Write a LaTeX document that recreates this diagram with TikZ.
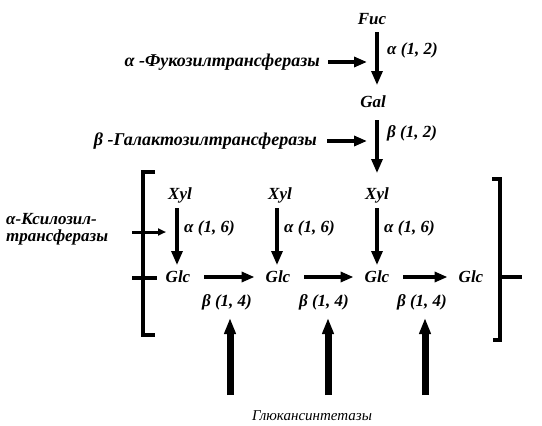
\documentclass[tikz,border=0pt]{standalone}
\usepackage{fontspec}
\setmainfont{Liberation Serif}
\usetikzlibrary{arrows.meta}
\begin{document}
\begin{tikzpicture}[x=1pt,y=-1pt,
  font=\fontsize{17}{19}\selectfont\bfseries\itshape,
  sugar/.style={inner sep=2pt},
  lbl/.style={anchor=west,inner sep=0pt},
  enz/.style={anchor=east,inner sep=0pt,font=\fontsize{18}{20}\selectfont\bfseries\itshape},
  arr/.style={line width=3.2pt,-{Triangle[length=14pt,width=11pt]}},
  harr/.style={line width=3.4pt,-{Triangle[length=13pt,width=10pt]}},
  smallarr/.style={line width=3pt,-{Triangle[length=8pt,width=7pt]}},
  bigarr/.style={line width=7pt,-{Triangle[length=16pt,width=11pt]}},
  brk/.style={line width=3.2pt}]
\useasboundingbox (0,0) rectangle (542,426);
% sugars
\node[sugar] (fuc) at (372,19) {Fuc};
\node[sugar] (gal) at (373,102) {Gal};
\node[sugar] (x1) at (180,195) {Xyl};
\node[sugar] (x2) at (280,195) {Xyl};
\node[sugar] (x3) at (377,195) {Xyl};
\node[sugar] (g1) at (178,277) {Glc};
\node[sugar] (g2) at (278,277) {Glc};
\node[sugar] (g3) at (377,277) {Glc};
\node[sugar] (g4) at (471,277) {Glc};
% vertical links
\draw[arr] (377,32) -- (377,85);
\draw[arr] (377,120) -- (377,173);
\draw[arr] (177,208) -- (177,265);
\draw[arr] (277,208) -- (277,265);
\draw[arr] (377,208) -- (377,265);
% link labels
\node[lbl] (a12) at (387,50) {α (1, 2)};
\node[lbl] (b12) at (387,133) {β (1, 2)};
\node[lbl] (a16a) at (184,228) {α (1, 6)};
\node[lbl] (a16b) at (284,228) {α (1, 6)};
\node[lbl] (a16c) at (384,228) {α (1, 6)};
% horizontal links
\draw[harr] (g1.east) ++(12,0) -- ([xshift=-9pt]g2.west);
\draw[harr] (g2.east) ++(12,0) -- ([xshift=-9pt]g3.west);
\draw[harr] (g3.east) ++(12,0) -- ([xshift=-9pt]g4.west);
\node[sugar] (b14a) at (227,302) {β (1, 4)};
\node[sugar] (b14b) at (324,302) {β (1, 4)};
\node[sugar] (b14c) at (422,302) {β (1, 4)};
% enzymes
\node[enz] (fe) at (320,62) {α -Фукозилтрансферазы};
\coordinate (fa) at (367,62);
\draw[harr] ([xshift=8pt]fe.east) -- (fa);
\node[enz] (ge) at (317,141) {β -Галактозилтрансферазы};
\coordinate (ga) at (367,141);
\draw[harr] ([xshift=10pt]ge.east) -- (ga);
\node[anchor=west,align=left,inner sep=0pt,font=\fontsize{17}{17}\selectfont\bfseries\itshape] (xe) at (6,229) {α-Ксилозил-\\трансферазы};
% brackets
\draw[brk] (155,172) -- (143,172) -- (143,335) -- (155,335);
\draw[brk] (492,179) -- (500,179) -- (500,340) -- (493,340);
\coordinate (t1) at (132,232);
\coordinate (t2) at (166,232);
\draw[smallarr] (t1) -- (t2);
\coordinate (t3) at (132,278);
\coordinate (t4) at (157,278);
\draw[brk] (t3) -- (t4);
\coordinate (t5) at (500,277);
\coordinate (t6) at (522,277);
\draw[brk] (t5) -- (t6);
% glucan synthases
\coordinate (u1) at (230,395);
\coordinate (u2) at (328,395);
\coordinate (u3) at (425,395);
\draw[bigarr] (u1) -- (230,318);
\draw[bigarr] (u2) -- (328,318);
\draw[bigarr] (u3) -- (425,318);
\node[inner sep=0pt,font=\fontsize{15}{16}\selectfont\itshape] (gs) at (312,416) {Глюкансинтетазы};
\end{tikzpicture}
\end{document}
